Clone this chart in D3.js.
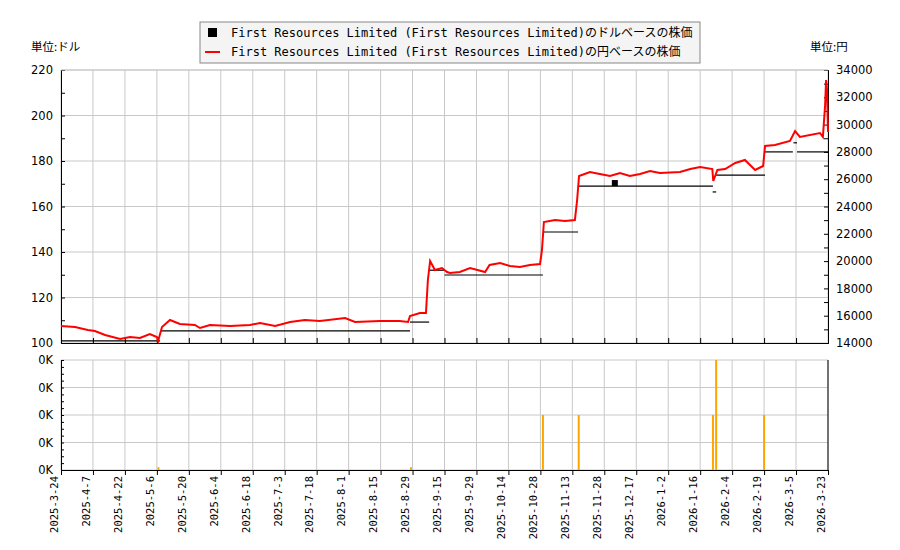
<!DOCTYPE html>
<html><head><meta charset="utf-8">
<script src="https://cdn.jsdelivr.net/npm/d3@7"></script>
<style>body{margin:0;background:#fff}</style></head>
<body><svg id="c" width="900" height="550"></svg>
<script>
const tickLabels=["2025-3-24","2025-4-7","2025-4-22","2025-5-6","2025-5-20","2025-6-4","2025-6-18","2025-7-3","2025-7-18","2025-8-1","2025-8-15","2025-8-29","2025-9-15","2025-9-29","2025-10-14","2025-10-28","2025-11-13","2025-11-28","2025-12-17","2026-1-2","2026-1-16","2026-2-4","2026-2-19","2026-3-5","2026-3-23"];
const jpyIdx=[0,4.4,8.4,10.6,13.8,18.5,21.6,24.7,27.8,30,30.4,31.6,34.1,37.2,41.9,43.5,46.6,52.9,59.1,62.3,67,71.7,76.3,81,88.9,92,99.8,106,108.6,109.2,112.3,114.2,114.8,115.5,117,119.2,120.8,121.7,124.8,128,132.7,134.1,137.4,140.5,143.6,146.7,149.9,150.5,151.1,154.6,157.7,160.8,161.5,162.1,165.5,168.6,171.8,174.9,178,181.2,184.3,187.4,193.7,196.9,200,203.8,204.1,205.4,207.8,211,214,217.2,219.7,220.3,223.4,228.1,229.7,231.2,237.5,238.4,239.1,239.4,239.7,240];
const jpyVal=[15245,15172,14952,14879,14586,14293,14440,14366,14659,14440,14147,15172,15685,15392,15319,15099,15319,15245,15319,15465,15245,15538,15685,15612,15832,15538,15612,15612,15538,15978,16198,16198,18615,20007,19348,19495,19201,19128,19201,19495,19201,19714,19861,19641,19568,19714,19788,20813,22864,23011,22938,23011,24476,26234,26527,26381,26234,26454,26234,26381,26601,26454,26527,26747,26894,26747,25868,26674,26747,27187,27407,26674,26967,28432,28505,28799,29531,29092,29385,29092,31436,33267,32535,29458];
const usdStart=[0,31,109.2,115.2,120,150.8,161.8,203.9,205,220.3,229.2,230.3];
const usdEnd=[31,109.2,115.2,120,150.8,161.8,204,205,220.3,229,230.3,240];
const usdVal=[100.9,105.3,109.2,132,129.9,148.8,169,166.4,173.8,184,188,184];
const usdDotIdx=[173.3], usdDotVal=[170.3];
const volIdx=[30.5,109.5,150.8,162,204,205,220];
const volVal=[0.1,0.1,2,2,2,4,2];

const svg=d3.select("#c");
const L=61,R=828,T=70,B=343,VT=360,VB=470;
const x=d3.scaleLinear().domain([0,240]).range([L,R]);
const yL=d3.scaleLinear().domain([100,220]).range([B,T]);
const yR=d3.scaleLinear().domain([14000,34000]).range([B,T]);
const yV=d3.scaleLinear().domain([0,4]).range([VB,VT]);
const grid="#c8c8c8";
const tks=d3.range(0,241,10);
[[T,B],[VT,VB]].forEach(([t,b])=>{
 svg.append("g").selectAll("line").data(tks).join("line").attr("x1",d=>x(d)).attr("x2",d=>x(d)).attr("y1",t).attr("y2",b).attr("stroke",grid);
});
svg.append("g").selectAll("line").data(d3.range(100,221,20)).join("line").attr("x1",L).attr("x2",R).attr("y1",d=>yL(d)).attr("y2",d=>yL(d)).attr("stroke",grid);
svg.append("g").selectAll("line").data(d3.range(0,5)).join("line").attr("x1",L).attr("x2",R).attr("y1",d=>yV(d)).attr("y2",d=>yV(d)).attr("stroke",grid);
const f="DejaVu Sans";
const gl=svg.append("g").attr("transform",`translate(${L},0)`).call(d3.axisLeft(yL).tickValues(d3.range(100,221,20)).tickSize(0).tickPadding(8));
gl.append("g").call(d3.axisRight(yL).tickValues(d3.range(100,221,10)).tickSize(4).tickFormat(""));
const gr=svg.append("g").attr("transform",`translate(${R},0)`).call(d3.axisRight(yR).tickValues(d3.range(14000,34001,2000)).tickSize(0).tickPadding(8).tickFormat(d3.format("d")));
gr.append("g").call(d3.axisLeft(yR).tickValues(d3.range(14000,34001,1000)).tickSize(4).tickFormat(""));
const gv=svg.append("g").attr("transform",`translate(${L},0)`).call(d3.axisLeft(yV).tickValues(d3.range(0,5)).tickSize(0).tickPadding(8).tickFormat(()=>"0K"));
gv.append("g").call(d3.axisRight(yV).tickValues(d3.range(0,4.01,0.25)).tickSize(3).tickFormat(""));
svg.append("line").attr("x1",R).attr("x2",R).attr("y1",VT).attr("y2",VB).attr("stroke","#000");
const gx=svg.append("g").attr("transform",`translate(0,${VB})`).call(d3.axisBottom(x).tickValues(tks).tickSize(5).tickFormat((d,i)=>tickLabels[i]));
gx.selectAll("text").attr("transform","rotate(-90)").attr("text-anchor","end").attr("dx","-6").attr("dy","-0.35em").attr("x",0).attr("y",0).style("font-family","DejaVu Sans Mono").style("font-size","10.5px");
svg.append("g").attr("transform",`translate(0,${B})`).call(d3.axisBottom(x).tickValues(tks).tickSize(-5).tickFormat(""));
svg.append("line").attr("x1",L).attr("x2",R).attr("y1",T).attr("y2",T).attr("stroke",grid);
svg.selectAll(".domain").attr("stroke","#000");
svg.selectAll(".tick text").filter(function(){return !this.getAttribute("transform")}).style("font-family",f).style("font-size","11.5px").attr("fill","#000");
svg.append("g").selectAll("rect").data(volIdx).join("rect").attr("x",d=>x(d)-1).attr("width",2).attr("y",(d,i)=>yV(volVal[i])).attr("height",(d,i)=>VB-yV(volVal[i])).attr("fill","#ffa500");
svg.append("g").selectAll("line").data(usdStart).join("line").attr("x1",d=>x(d)).attr("x2",(d,i)=>x(usdEnd[i])).attr("y1",(d,i)=>yL(usdVal[i])).attr("y2",(d,i)=>yL(usdVal[i])).attr("stroke","#000").attr("stroke-width",1.2);
svg.append("g").selectAll("rect").data(usdDotIdx).join("rect").attr("x",d=>x(d)-3).attr("y",(d,i)=>yL(usdDotVal[i])-3).attr("width",6).attr("height",6).attr("fill","#000");
svg.append("path").datum(jpyIdx).attr("fill","none").attr("stroke","#f00").attr("stroke-width",2)
 .attr("d",d3.line().x(d=>x(d)).y((d,i)=>yR(jpyVal[i])));
svg.append("text").attr("x",31).attr("y",51).text("単位:ドル").style("font-family","Noto Sans CJK JP").style("font-size","11.5px");
svg.append("text").attr("x",810).attr("y",51).text("単位:円").style("font-family","Noto Sans CJK JP").style("font-size","11.5px");
const lg=svg.append("g");
lg.append("rect").attr("x",200).attr("y",22).attr("width",500).attr("height",41).attr("fill","#f4f4f4").attr("stroke","#888");
lg.append("rect").attr("x",208).attr("y",28).attr("width",9).attr("height",9).attr("fill","#000");
lg.append("line").attr("x1",205).attr("x2",220).attr("y1",52).attr("y2",52).attr("stroke","#f00").attr("stroke-width",2);
const names=["First Resources Limited (First Resources Limited)のドルベースの株価","First Resources Limited (First Resources Limited)の円ベースの株価"];
lg.selectAll("text").data(names).join("text").attr("x",231).attr("y",(d,i)=>37+i*19).text(d=>d).style("font-family","DejaVu Sans Mono, Noto Sans CJK JP").style("font-size","12px");
</script></body></html>
